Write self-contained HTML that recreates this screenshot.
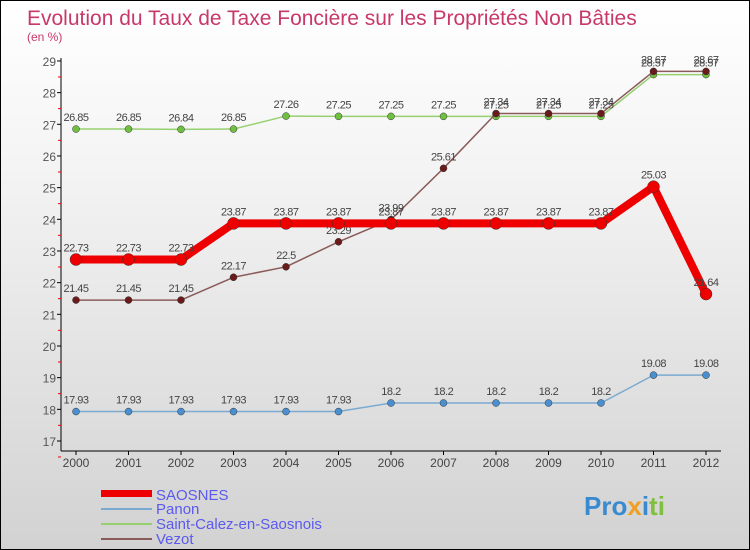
<!DOCTYPE html>
<html><head><meta charset="utf-8"><style>
body{margin:0}
#c{width:750px;height:550px;position:relative;box-sizing:border-box;border:1px solid #000;background:linear-gradient(#ffffff,#f4f4f4 30%,#d2d2d2);font-family:"Liberation Sans",sans-serif;overflow:hidden}
</style></head><body>
<div id="c">
<svg id="s" width="750" height="550" style="position:absolute;left:0;top:0">
<text x="26" y="24" font-size="21" fill="#c8386a">Evolution du Taux de Taxe Foncière sur les Propriétés Non Bâties</text>
<text x="26" y="40" font-size="12" fill="#c8386a">(en %)</text>
<g id="axes"></g><g id="series"></g>
<g>
<rect x="100" y="489" width="51" height="7" fill="#e00"/>
<text x="155" y="499" font-size="15" fill="#5a5aee">SAOSNES</text>
<rect x="100" y="507" width="51" height="2" fill="#7aaad0"/>
<text x="155" y="513" font-size="15" fill="#5a5aee">Panon</text>
<rect x="100" y="522" width="51" height="2" fill="#96d070"/>
<text x="155" y="528" font-size="15" fill="#5a5aee">Saint-Calez-en-Saosnois</text>
<rect x="100" y="537" width="51" height="2" fill="#8a5a5a"/>
<text x="155" y="543" font-size="15" fill="#5a5aee">Vezot</text>
</g>
<text x="583" y="514" font-size="26" font-weight="bold" fill="#3a8ad0">Pro<tspan fill="#f0a020">x</tspan><tspan fill="#3a8ad0">i</tspan><tspan fill="#80c040">ti</tspan></text>
</svg>
</div>
<script>
const years=[2000,2001,2002,2003,2004,2005,2006,2007,2008,2009,2010,2011,2012];
const yTicks=[17,18,19,20,21,22,23,24,25,26,27,28,29];
const saosnes=[22.73,22.73,22.73,23.87,23.87,23.87,23.87,23.87,23.87,23.87,23.87,25.03,21.64];
const panon=[17.93,17.93,17.93,17.93,17.93,17.93,18.2,18.2,18.2,18.2,18.2,19.08,19.08];
const saintCalez=[26.85,26.85,26.84,26.85,27.26,27.25,27.25,27.25,27.25,27.25,27.25,28.57,28.57];
const vezot=[21.45,21.45,21.45,22.17,22.5,23.29,23.99,25.61,27.34,27.34,27.34,28.67,28.67];
const NS="http://www.w3.org/2000/svg";
const xs=i=>75+i*52.5;
const ys=v=>440-(v-17)*31.67;
function mk(tag,at,parent){const e=document.createElementNS(NS,tag);for(const k in at)e.setAttribute(k,at[k]);parent.appendChild(e);return e;}
const ax=document.getElementById('axes');
let l=mk('line',{x1:60,y1:57,x2:60,y2:450,stroke:'#000'},ax);


l=mk('line',{x1:60,y1:450,x2:720,y2:450,stroke:'#000'},ax);


yTicks.forEach(t=>{
 const y=ys(t);
 mk('line',{x1:56,y1:y,x2:60,y2:y,stroke:'#000'},ax);
 mk('line',{x1:57,y1:y+16,x2:60,y2:y+16,stroke:'#e00'},ax);
 const tx=mk('text',{x:55,y:y+5,'font-size':12,fill:'#555','text-anchor':'end'},ax);
 tx.textContent=t;
 
 
});
years.forEach((yr,i)=>{
 const x=xs(i);
 mk('line',{x1:x,y1:450,x2:x,y2:454,stroke:'#000'},ax);
 const tx=mk('text',{x:x,y:466,'font-size':12,fill:'#444','text-anchor':'middle'},ax);
 tx.textContent=yr;
 
 
});
const sg=document.getElementById('series');
function draw(vals,name,color,w,r,dot,lab){
 const g=mk('g',{},sg);
 
 
 const p=mk('polyline',{points:vals.map((v,i)=>xs(i)+','+ys(v)).join(' '),fill:'none',stroke:color,'stroke-width':w,'stroke-linejoin':'round'},g);
 
 
 vals.forEach((v,i)=>{
  const c=mk('circle',{cx:xs(i),cy:ys(v),r:r,fill:dot,stroke:'#333','stroke-width':0.5},g);
  
  
  const t=mk('text',{x:xs(i),y:ys(v)-8,'font-size':11,fill:'#444','text-anchor':'middle','letter-spacing':'-0.5'},g);
  t.textContent=v;
  
  
 });
}
draw(panon,'panon','#7aaad0',1.5,3.5,'#4a90d0');
draw(saintCalez,'saint-calez','#96d070',1.5,3.5,'#70c040');
draw(vezot,'vezot','#8a5a5a',1.5,3.5,'#6a1a1a');
draw(saosnes,'saosnes','#e00',8,6,'#e00');
</script>
</body></html>
